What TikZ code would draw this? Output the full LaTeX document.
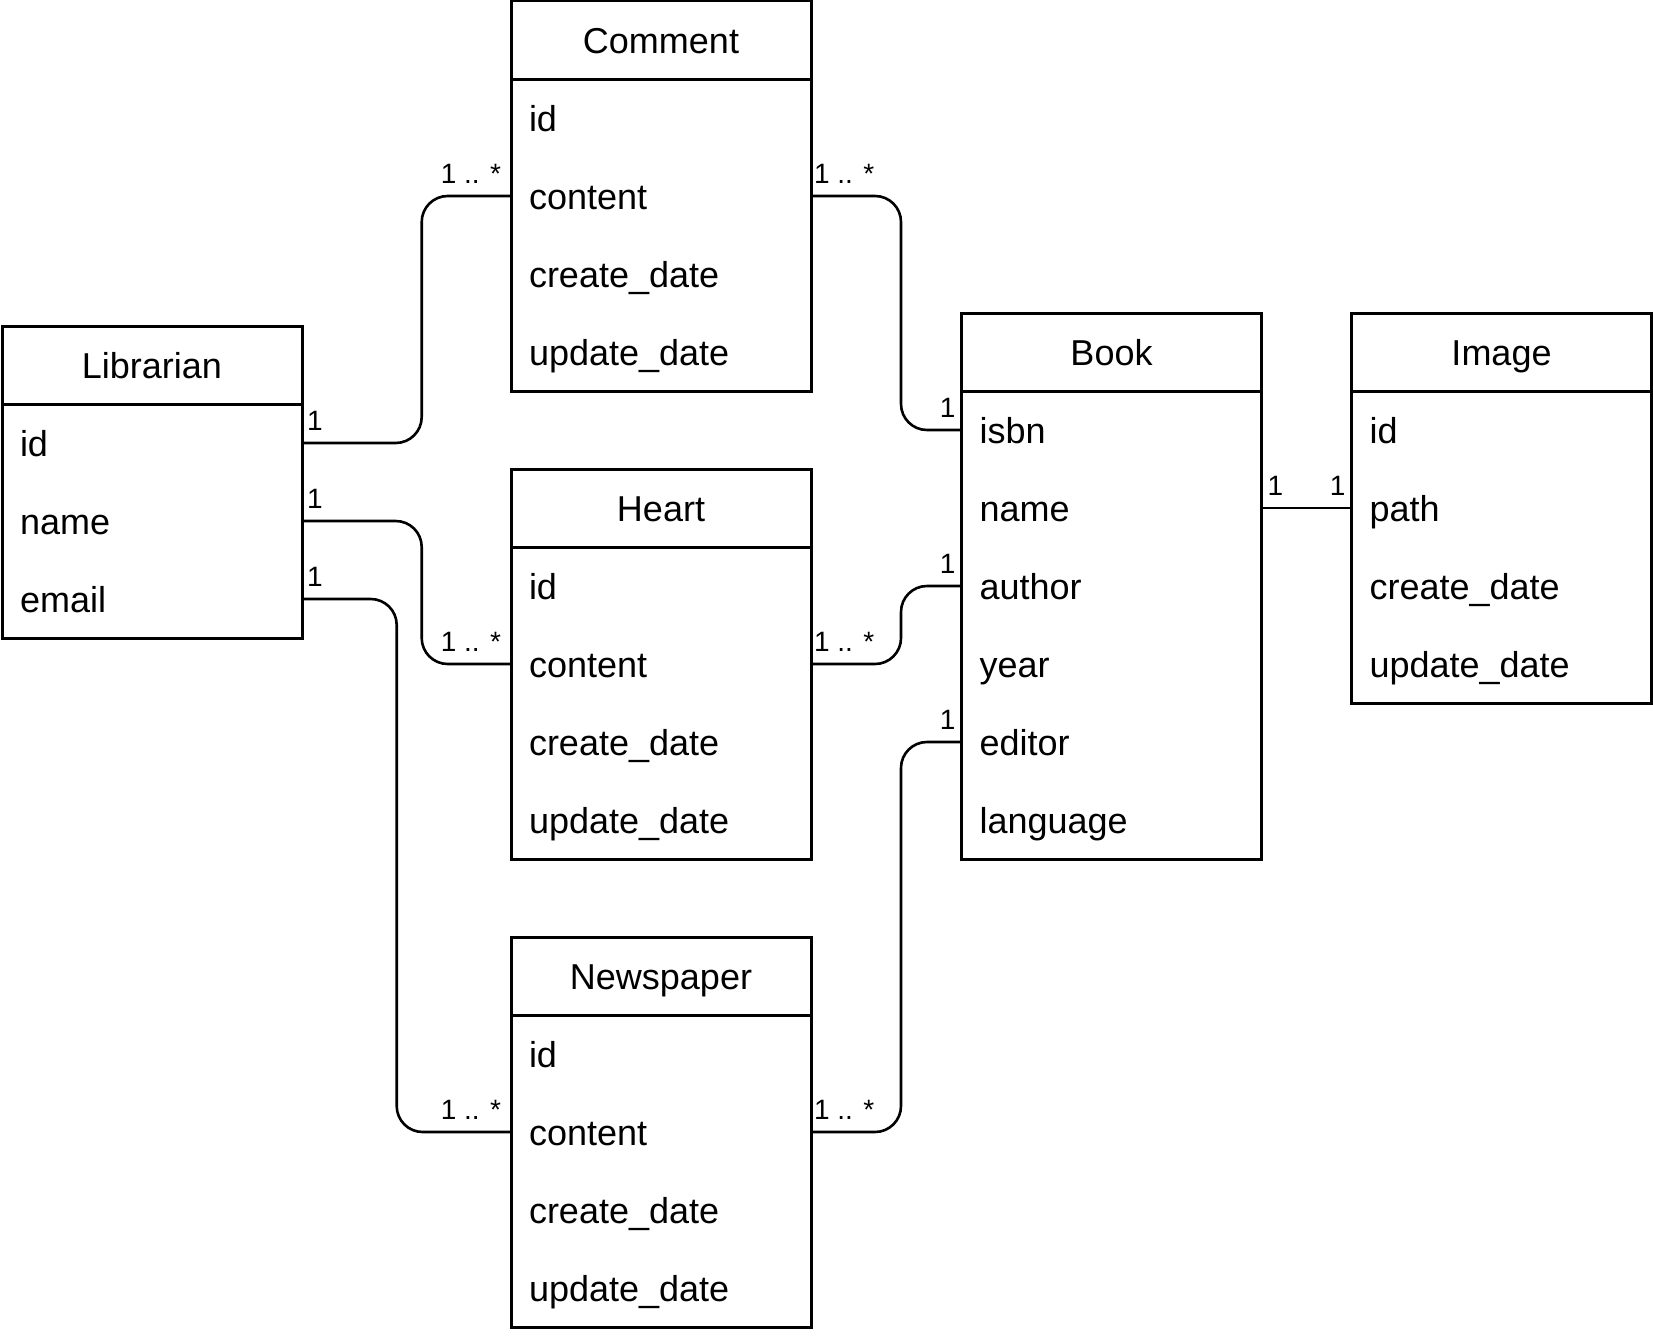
\documentclass[tikz,border=0pt]{standalone}
\usepackage{fontspec}
\setmainfont{Liberation Sans}
\usetikzlibrary{calc}
\tikzset{
  boxline/.style={line width=3pt, line join=miter},
  hdr/.style={minimum width=300pt, minimum height=78pt, inner sep=0pt, outer sep=0pt,
    text height=30pt, text depth=4pt, font=\fontsize{36}{40}\selectfont, align=center},
  row/.style={minimum width=300pt, minimum height=78pt, inner xsep=18pt, inner ysep=0pt, outer sep=0pt,
    text width=264pt, text height=30pt, text depth=4pt, font=\fontsize{36}{40}\selectfont, align=left},
  conn/.style={line width=2.6pt, rounded corners=26pt},
  lbl/.style={inner sep=0pt, outer sep=0pt, font=\fontsize{28}{30}\selectfont}
}
\newcommand\erent[6]{%
  \node[hdr, anchor=north west] (#1-0) at (#2,#3) {#4};
  \foreach \t [count=\i] in {#5} {
    \node[row, anchor=north west] (#1-\i) at (#2,#3+78*\i) {\t};
  }
  \draw[boxline] (#1-0.north west) rectangle (#1-#6.south east);
  \draw[boxline] (#1-0.south west) -- (#1-0.south east);
}
\begin{document}
\begin{tikzpicture}[x=1pt,y=-1pt]
  \useasboundingbox (0,0) rectangle (1653,1338);
  \erent{L}{2}{326}{Librarian}{id,name,email}{3}
  \erent{C}{511}{1}{Comment}{id,content,create\_date,update\_date}{4}
  \erent{H}{511}{469}{Heart}{id,content,create\_date,update\_date}{4}
  \erent{N}{511}{937}{Newspaper}{id,content,create\_date,update\_date}{4}
  \erent{B}{961.5}{313}{Book}{isbn,name,author,year,editor,language}{6}
  \erent{I}{1351.5}{313}{Image}{id,path,create\_date,update\_date}{4}

  \coordinate (va) at (421.7,0);
  \coordinate (vb) at (396.7,0);
  \coordinate (vc) at (901,0);

  \draw[conn] (L-1.east) -- (L-1.east -| va) -- (C-2.west -| va) -- (C-2.west);
  \draw[conn] (L-2.east) -- (L-2.east -| va) -- (H-2.west -| va) -- (H-2.west);
  \draw[conn] (L-3.east) -- (L-3.east -| vb) -- (N-2.west -| vb) -- (N-2.west);
  \draw[conn] (C-2.east) -- (C-2.east -| vc) -- (B-1.west -| vc) -- (B-1.west);
  \draw[conn] (H-2.east) -- (H-2.east -| vc) -- (B-3.west -| vc) -- (B-3.west);
  \draw[conn] (N-2.east) -- (N-2.east -| vc) -- (B-5.west -| vc) -- (B-5.west);
  \draw[conn] (B-2.east) -- (I-2.west);

  \node[lbl, anchor=base west] (t1) at ($(L-1.east)+(5,-13)$) {1};
  \node[lbl, anchor=base west] (t2) at ($(L-2.east)+(5,-13)$) {1};
  \node[lbl, anchor=base west] (t3) at ($(L-3.east)+(5,-13)$) {1};
  \node[lbl, anchor=base east] (t4) at ($(C-2.west)+(-10,-13)$) {1 .. *};
  \node[lbl, anchor=base east] (t5) at ($(H-2.west)+(-10,-13)$) {1 .. *};
  \node[lbl, anchor=base east] (t6) at ($(N-2.west)+(-10,-13)$) {1 .. *};
  \node[lbl, anchor=base west] (t7) at ($(C-2.east)+(3,-13)$) {1 .. *};
  \node[lbl, anchor=base west] (t8) at ($(H-2.east)+(3,-13)$) {1 .. *};
  \node[lbl, anchor=base west] (t9) at ($(N-2.east)+(3,-13)$) {1 .. *};
  \node[lbl, anchor=base east] (t10) at ($(B-1.west)+(-6,-13)$) {1};
  \node[lbl, anchor=base east] (t11) at ($(B-3.west)+(-6,-13)$) {1};
  \node[lbl, anchor=base east] (t12) at ($(B-5.west)+(-6,-13)$) {1};
  \node[lbl, anchor=base west] (t13) at ($(B-2.east)+(6,-13)$) {1};
  \node[lbl, anchor=base east] (t14) at ($(I-2.west)+(-6,-13)$) {1};
\end{tikzpicture}
\end{document}
